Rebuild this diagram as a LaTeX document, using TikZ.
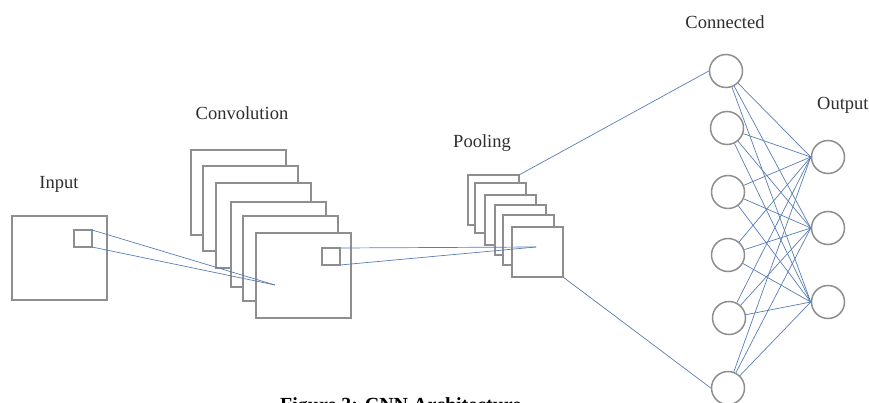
\documentclass[tikz,border=0pt]{standalone}
\usepackage{fontspec}
\setmainfont{Liberation Serif}
\definecolor{framegray}{HTML}{8E8E8E}
\definecolor{linkblue}{HTML}{5A7DB4}
\definecolor{labelgray}{HTML}{2E2E2E}
\begin{document}
\begin{tikzpicture}[x=1pt,y=-1pt,
  frame/.style={draw=framegray, line width=1.5pt, fill=white, inner sep=0pt, outer sep=0pt, anchor=north west},
  bigmap/.style={frame, minimum width=95pt, minimum height=85pt},
  poolmap/.style={frame, minimum width=51pt, minimum height=50pt},
  kernel/.style={frame, minimum width=18pt, minimum height=17pt, line width=1.3pt},
  neuron/.style={circle, draw=framegray, line width=1.5pt, fill=white, minimum size=33pt, inner sep=0pt},
  link/.style={draw=linkblue, line width=0.7pt},
  lbl/.style={font=\fontsize{18.5}{20}\selectfont, inner sep=0pt, text=labelgray}]
\useasboundingbox (0,0) rectangle (869,403);

% labels
\node[lbl, anchor=base] (tin) at (59,189) {Input};
\node[lbl, anchor=base] (tconv) at (242,120) {Convolution};
\node[lbl, anchor=base] (tpool) at (482,148) {Pooling};
\node[lbl, anchor=base] (tconn) at (725,29) {Connected};
\node[lbl, anchor=base west] (tout) at (817,110) {Output};

% input
\node[bigmap, minimum height=84pt] (inp) at (12,216) {};
\node[kernel] (insq) at (74,230) {};

% convolution stack
\node[bigmap] (cv1) at (191,150) {};
\node[bigmap] (cv2) at (203,166) {};
\node[bigmap] (cv3) at (216,183) {};
\node[bigmap] (cv4) at (231,202) {};
\node[bigmap] (cv5) at (243,216) {};
\node[bigmap] (cv6) at (256,233) {};
\node[kernel] (cvsq) at (322,248) {};

% pooling stack
\node[poolmap] (pl1) at (468,175) {};
\node[poolmap] (pl2) at (475,183) {};
\node[poolmap] (pl3) at (485,195) {};
\node[poolmap] (pl4) at (495,205) {};
\node[poolmap] (pl5) at (503,215) {};
\node[poolmap] (pl6) at (512,227) {};

% fully connected
\node[neuron] (h1) at (726,71) {};
\node[neuron] (h2) at (727,128) {};
\node[neuron] (h3) at (728,192) {};
\node[neuron] (h4) at (728,255) {};
\node[neuron] (h5) at (729,318) {};
\node[neuron] (h6) at (728,388) {};
\node[neuron] (o1) at (828,157) {};
\node[neuron] (o2) at (828,228) {};
\node[neuron] (o3) at (828,302) {};

% connectors
\coordinate (cvfocus) at (275,285);
\coordinate (plfocus) at (536,247);
\draw[link] (insq.north east) -- (cvfocus);
\draw[link] (insq.south east) -- (cvfocus);
\draw[link] (cvsq.north east) -- (plfocus);
\draw[link] (cvsq.south east) -- (plfocus);
\draw[link] (pl1.north east) -- (h1.west);
\draw[link] (pl6.south east) -- (h6.west);
\foreach \i in {1,...,6}
  \foreach \j in {1,2,3}
    \draw[link] (h\i) -- (o\j.west);

% caption (cut by the lower edge, as in the reference)
\node[font=\fontsize{20}{22}\selectfont\bfseries, anchor=base west, inner sep=0pt] (cap) at (280,411) {Figure 3: CNN Architecture};
\end{tikzpicture}
\end{document}
